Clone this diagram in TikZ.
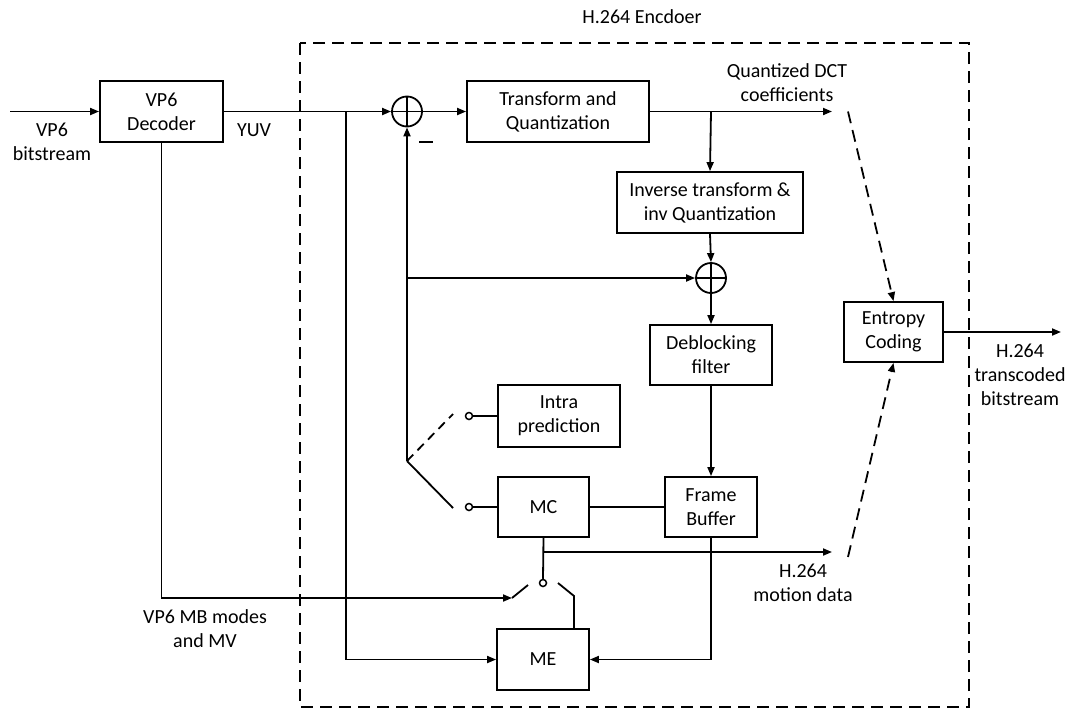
\documentclass[tikz,border=0pt]{standalone}
\usepackage{fontspec}
\setmainfont{Carlito}
\usetikzlibrary{arrows.meta}
\begin{document}
\begin{tikzpicture}[x=1pt,y=-1pt,
  line width=1.8pt,
  font=\fontsize{20}{24}\selectfont,
  blk/.style={draw,rectangle,align=center,inner sep=0pt},
  summer/.style={draw,circle,minimum size=30pt,inner sep=0pt,
    path picture={\draw[line width=1.5pt]
      (path picture bounding box.north) -- (path picture bounding box.south)
      (path picture bounding box.west) -- (path picture bounding box.east);}},
  contact/.style={draw,circle,minimum size=7pt,inner sep=0pt,fill=white,line width=1.5pt},
  lbl/.style={align=center,inner sep=0pt},
  arr/.style={-{Triangle[length=9pt,width=7pt]}},
  dasharr/.style={-{Triangle[length=9pt,width=7pt]},dash pattern=on 12pt off 7pt},
  frame/.style={dash pattern=on 12pt off 7pt}
]
\useasboundingbox (0,0) rectangle (1081,715);

% encoder boundary
\draw[frame] (300,43) rectangle (969,707);
\node[lbl] (title) at (642,17) {H.264 Encdoer};

% blocks
\node[blk,minimum width=123pt,minimum height=61pt] (dec)   at (161.5,111.5) {VP6\\Decoder};
\node[blk,minimum width=182pt,minimum height=61pt] (tq)    at (558,111.5) {Transform and\\Quantization};
\node[blk,minimum width=186pt,minimum height=61pt] (itq)   at (710,202.5) {Inverse transform \&\\inv Quantization};
\node[blk,minimum width=122pt,minimum height=60pt] (dbf)   at (711,355) {Deblocking\\filter};
\node[blk,minimum width=99pt,minimum height=60pt]  (ent)   at (893.5,332) {Entropy\\Coding};
\node[blk,minimum width=122pt,minimum height=62pt] (intra) at (559,416) {Intra\\prediction};
\node[blk,minimum width=91pt,minimum height=60pt]  (mc)    at (543.5,507) {MC};
\node[blk,minimum width=92pt,minimum height=60pt]  (fb)    at (711,507) {Frame\\Buffer};
\node[blk,minimum width=92pt,minimum height=61pt]  (me)    at (543,659.5) {ME};

\node[summer] (sum1) at (407,111.5) {};
\node[summer] (sum2) at (711,278) {};

% switch contacts
\node[contact] (cintra) at (469,416) {};
\node[contact] (cmc)    at (469,507) {};
\node[contact] (cme)    at (543,583) {};

% helper points
\coordinate (in)    at (10,111.5);
\coordinate (yuvb)  at (346,111.5);
\coordinate (qb)    at (711,111.5);
\coordinate (qout)  at (832,111.5);
\coordinate (pivot) at (407,461);
\coordinate (fbk)   at (407,278);
\coordinate (armI)  at (453,414);
\coordinate (armM)  at (453,508);
\coordinate (mvb)   at (543,552);
\coordinate (mvout) at (832,552);
\coordinate (vpin)  at (512,598);
\coordinate (armL)  at (528,585);
\coordinate (armR1) at (558,583);
\coordinate (armR2) at (574,596);
\coordinate (dq)    at (848,111.5);
\coordinate (dm)    at (848,557);
\coordinate (out)   at (1061,332);

% labels
\node[lbl] (lin)  at (52,142) {VP6\\bitstream};
\node[lbl] (lyuv) at (254,130) {YUV};
\node[lbl] (lmin) at (426,142) {\rule{14pt}{1.8pt}};
\node[lbl] (lq)   at (787,83) {Quantized DCT\\coefficients};
\node[lbl] (lout) at (1020,375) {H.264\\transcoded\\bitstream};
\node[lbl] (lmd)  at (803,583) {H.264\\motion data};
\node[lbl] (lmb)  at (205,629) {VP6 MB modes\\and MV};

% forward path
\draw[arr] (in) -- (dec.west);
\draw[arr] (dec.east) -- (sum1.west);
\draw[arr] (sum1.east) -- (tq.west);
\draw[arr] (tq.east) -- (qout);
\draw[arr] (qb) -- (itq.north);
\draw[arr] (itq.south) -- (sum2.north);
\draw[arr] (sum2.south) -- (dbf.north);
\draw[arr] (dbf.south) -- (fb.north);
\draw[arr] (yuvb) |- (me.west);

% prediction feedback
\draw[arr] (pivot) -- (sum1.south);
\draw[arr] (fbk) -- (sum2.west);
\draw (pivot) -- (armM);
\draw[dash pattern=on 9pt off 6pt] (pivot) -- (armI);
\draw (cintra) -- (intra.west);
\draw (cmc) -- (mc.west);
\draw (mc.east) -- (fb.west);
\draw[arr] (fb.south) |- (me.east);

% motion data path
\draw (mc.south) -- (cme.north);
\draw[arr] (mvb) -- (mvout);
\draw[arr] (dec.south) |- (vpin);
\draw (vpin) -- (armL);
\draw (armR1) -- (armR2) -- (armR2 |- me.north);

% entropy coding
\draw[dasharr] (dq) -- (ent.north);
\draw[dasharr] (dm) -- (ent.south);
\draw[arr] (ent.east) -- (out);
\end{tikzpicture}
\end{document}
